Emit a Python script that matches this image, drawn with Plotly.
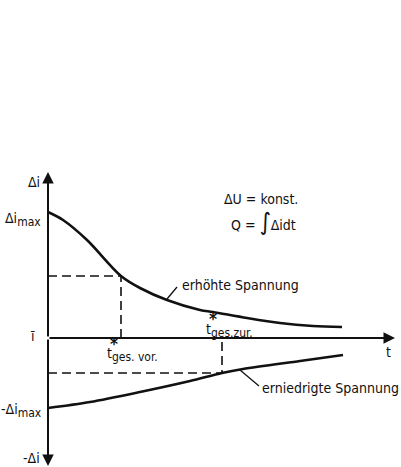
import plotly.graph_objects as go

# Current deviation curves after a voltage step (time t, deviation Δi)
t_up = [0, 15, 39, 73, 92, 119, 152, 165, 199, 232, 265, 294]
di_up = [126, 118, 98, 62, 50, 38, 28, 26, 20, 15, 12, 11]

t_down = [0, 42, 92, 142, 174, 195, 252, 295]
di_down = [-70, -64, -54, -43, -35, -31, -23, -17]

# Characteristic times and the deviation levels reached there
t_vor, di_vor = 73, 62
t_zur, di_zur = 174, -35

# Axis extents
t_end = 347
di_top, di_bottom = 166, -128

FONT = "DejaVu Sans Condensed, Liberation Sans Narrow, DejaVu Sans"
INK = "#111111"

fig = go.Figure()

# Curves
curve = dict(color=INK, width=2.6, shape="spline", smoothing=0.9)
fig.add_trace(go.Scatter(x=t_up, y=di_up, mode="lines", line=curve, hoverinfo="skip"))
fig.add_trace(go.Scatter(x=t_down, y=di_down, mode="lines", line=curve, hoverinfo="skip"))

# Dashed construction lines
dash = dict(color=INK, width=1.6, dash="9px,5px")
fig.add_trace(go.Scatter(x=[0, t_vor, t_vor], y=[di_vor, di_vor, 0], mode="lines", line=dash, hoverinfo="skip"))
fig.add_trace(go.Scatter(x=[0, t_zur, t_zur], y=[di_zur, di_zur, 0], mode="lines", line=dash, hoverinfo="skip"))

annotations = []

def arrow(x0, y0, x1, y1, head=2, size=1.0, width=2.0):
    annotations.append(dict(x=x1, y=y1, ax=x0, ay=y0, xref="x", yref="y", axref="x", ayref="y",
                            showarrow=True, arrowhead=head, arrowsize=size, arrowwidth=width,
                            arrowcolor=INK, text=""))

# Axes with arrowheads
arrow(0, 0, t_end, 0, head=2, size=1.15, width=2.0)
arrow(0, 0, 0, di_top, head=2, size=1.15, width=2.0)
arrow(0, 0, 0, di_bottom, head=2, size=1.15, width=2.0)

# Leader lines to the curve labels
fig.add_trace(go.Scatter(x=[119, 129], y=[39, 51], mode="lines", line=dict(color=INK, width=1.3), hoverinfo="skip"))
fig.add_trace(go.Scatter(x=[192, 211], y=[-32, -48], mode="lines", line=dict(color=INK, width=1.3), hoverinfo="skip"))

def label(x, y, text, xanchor="left", yanchor="middle", size=14):
    annotations.append(dict(x=x, y=y, xref="x", yref="y", text=text, showarrow=False,
                            xanchor=xanchor, yanchor=yanchor,
                            font=dict(family=FONT, size=size, color=INK)))

def sub(s):
    return "<sub><span style='font-size:12px'>" + s + "</span></sub>"

label(-6, 156, "Δi", xanchor="right")
label(-5, 119, "Δi" + sub("max"), xanchor="right")
label(-11, 2, "ī", xanchor="right")
label(-4, -72, "-Δi" + sub("max"), xanchor="right")
label(-6, -120, "-Δi", xanchor="right")
label(340, -14, "t", xanchor="center")

# Characteristic-time labels: t with star index above and subscript below
label(57, -16, "t" + sub("ges. vor."))
label(66, -6, "<b>*</b>", xanchor="center", size=17)
label(156, 8, "t" + sub("ges.zur."))
label(165, 19, "<b>*</b>", xanchor="center", size=17)

label(132, 53, "erhöhte Spannung")
label(212, -50, "erniedrigte Spannung")

label(174, 139, "ΔU = konst.")
label(181, 116, "Q = <span style='font-size:24px'>∫</span>Δidt")

fig.update_layout(
    width=401, height=467,
    margin=dict(l=0, r=0, t=0, b=0),
    paper_bgcolor="white", plot_bgcolor="white",
    showlegend=False,
    xaxis=dict(range=[-48, 353], visible=False, fixedrange=True),
    yaxis=dict(range=[-129, 338], visible=False, fixedrange=True),
    annotations=annotations,
)

fig.write_html("out.html")
